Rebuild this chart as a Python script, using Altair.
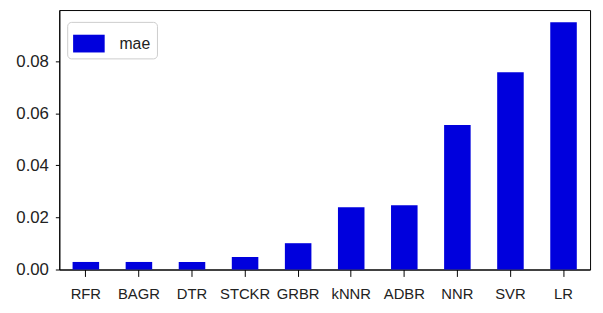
import altair as alt
import pandas as pd

models = ["RFR", "BAGR", "DTR", "STCKR", "GRBR", "kNNR", "ADBR", "NNR", "SVR", "LR"]
mae = [0.0029, 0.0029, 0.0029, 0.0048, 0.0101, 0.0239, 0.0247, 0.0555, 0.0757, 0.0949]
series = ["mae"] * len(models)
y_ticks = [0.0, 0.02, 0.04, 0.06, 0.08]

df = pd.DataFrame({"model": models, "mae": mae, "series": series})

FONT = "Liberation Sans Narrow, Liberation Sans, Arial, sans-serif"
TXT = "#222222"

chart = alt.Chart(df).mark_bar().encode(
    x=alt.X(
        "model:N", sort=models, title=None,
        scale=alt.Scale(paddingInner=0.5, paddingOuter=0.25),
        axis=alt.Axis(labelAngle=0, tickSize=7, labelPadding=10, labelFontSize=15,
                      labelFont=FONT, labelColor=TXT, domainColor="black",
                      tickColor="black", grid=False),
    ),
    y=alt.Y(
        "mae:Q", title=None,
        scale=alt.Scale(domain=[0, 0.0996], nice=False),
        axis=alt.Axis(values=y_ticks, format=".2f", tickSize=4, labelPadding=7,
                      labelFontSize=17, labelFont=FONT, labelColor=TXT,
                      domainColor="black", tickColor="black", grid=False),
    ),
    color=alt.Color(
        "series:N", scale=alt.Scale(range=["#0000dd"]),
        legend=alt.Legend(
            title=None, orient="none", legendX=8, legendY=12,
            symbolType="M-1,-0.5625H1V0.5625H-1Z", symbolSize=1024,
            symbolStrokeWidth=0, symbolOpacity=1,
            labelFont=FONT, labelFontSize=16, labelColor=TXT, labelOffset=15,
            fillColor="white", strokeColor="#cccccc", cornerRadius=4, padding=6,
        ),
    ),
).properties(
    width=538, height=263,
    autosize=alt.AutoSizeParams(type="none"),
    padding={"left": 52, "top": 0, "right": 5, "bottom": 42},
).configure_view(stroke="black", strokeWidth=1)

chart.save("out.html", embed_options={"renderer": "svg", "actions": False})
